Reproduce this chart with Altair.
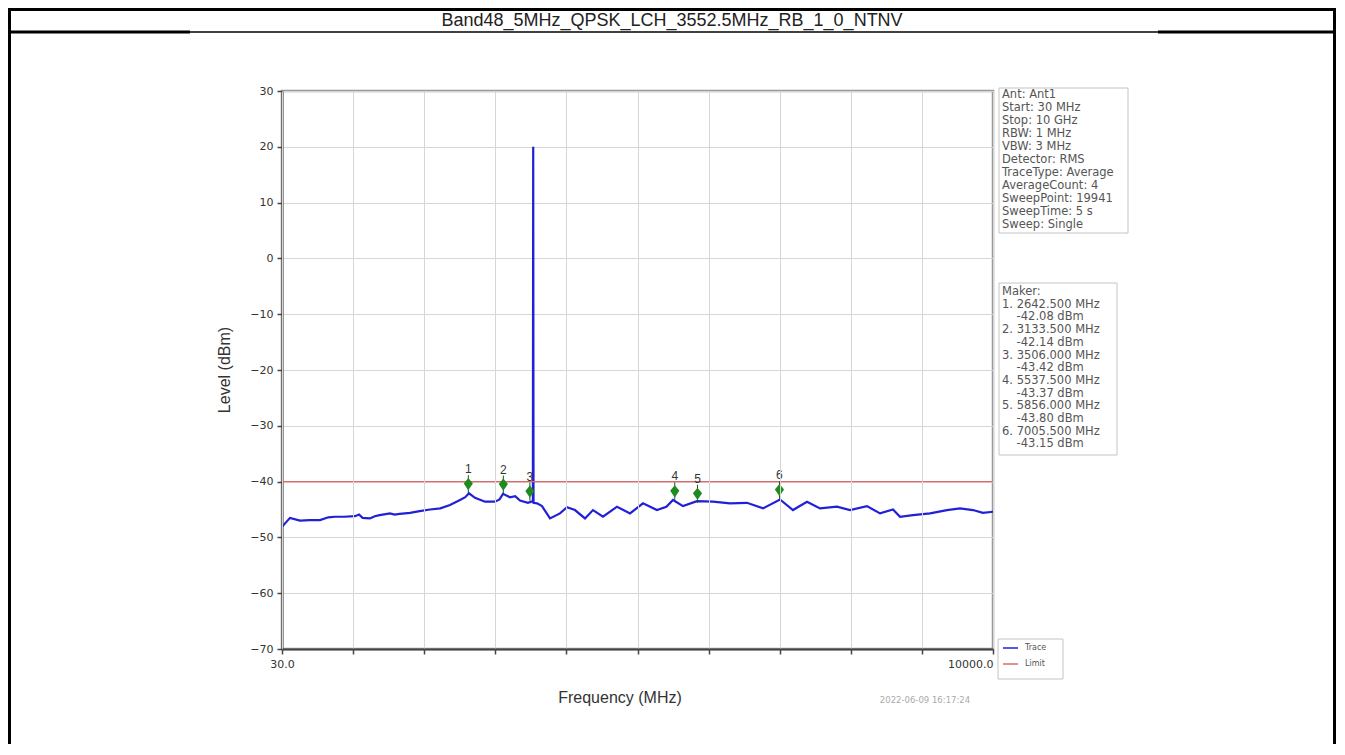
import altair as alt
import pandas as pd

# ---------------- data ----------------
trace_freq = [30, 142, 282, 420, 563, 680, 773, 900, 1054, 1110, 1160, 1264, 1330, 1400, 1544,
              1610, 1680, 1825, 1960, 2105, 2250, 2386, 2526, 2600, 2652, 2736, 2877, 3017,
              3080, 3129, 3227, 3300, 3367, 3479, 3548, 3552.5, 3557, 3606, 3676, 3788, 3928,
              4026, 4138, 4279, 4391, 4531, 4727, 4910, 5092, 5288, 5420, 5513, 5653, 5849,
              6073, 6312, 6550, 6775, 7013, 7195, 7392, 7574, 7812, 7995, 8233, 8416, 8598,
              8696, 8878, 9117, 9355, 9537, 9719, 9859, 10000]
trace_level = [-48.1, -46.5, -47.0, -46.9, -46.9, -46.4, -46.3, -46.3, -46.2, -45.9, -46.5,
               -46.6, -46.2, -46.0, -45.7, -45.9, -45.8, -45.6, -45.3, -45.0, -44.8, -44.2,
               -43.3, -42.8, -42.1, -42.9, -43.6, -43.6, -43.2, -42.2, -42.8, -42.6, -43.4,
               -43.8, -43.5, 20.0, -43.8, -43.9, -44.4, -46.6, -45.7, -44.6, -45.1, -46.6,
               -45.1, -46.3, -44.5, -45.7, -43.9, -45.1, -44.5, -43.3, -44.4, -43.5, -43.6,
               -43.9, -43.8, -44.8, -43.2, -45.1, -43.6, -44.8, -44.5, -45.1, -44.4, -45.7,
               -45.0, -46.3, -46.0, -45.7, -45.1, -44.8, -45.1, -45.6, -45.4]

marker_ids = ["1", "2", "3", "4", "5", "6"]
marker_freq = [2642.5, 3133.5, 3506.0, 5537.5, 5856.0, 7005.5]
marker_level = [-42.08, -42.14, -43.42, -43.37, -43.80, -43.15]

limit_level = [-40]

x_tick_values = [30, 1027, 2024, 3021, 4018, 5015, 6012, 7009, 8006, 9003, 10000]
y_tick_values = [-70, -60, -50, -40, -30, -20, -10, 0, 10, 20, 30]

title_text = "Band48_5MHz_QPSK_LCH_3552.5MHz_RB_1_0_NTNV"
x_title = "Frequency (MHz)"
y_title = "Level (dBm)"
timestamp = "2022-06-09 16:17:24"

info_lines = ["Ant: Ant1", "Start: 30 MHz", "Stop: 10 GHz", "RBW: 1 MHz", "VBW: 3 MHz",
              "Detector: RMS", "TraceType: Average", "AverageCount: 4", "SweepPoint: 19941",
              "SweepTime: 5 s", "Sweep: Single"]
IND = "\u200b" + "\u00a0" * 4
marker_lines = ["Maker:",
                "1. 2642.500 MHz", IND + "-42.08 dBm",
                "2. 3133.500 MHz", IND + "-42.14 dBm",
                "3. 3506.000 MHz", IND + "-43.42 dBm",
                "4. 5537.500 MHz", IND + "-43.37 dBm",
                "5. 5856.000 MHz", IND + "-43.80 dBm",
                "6. 7005.500 MHz", IND + "-43.15 dBm"]
legend_names = ["Trace", "Limit"]

# ---------------- layout ----------------
PX0, PY0 = 282, 91          # page position of plot origin
W, H = 711, 558
PAD = {"left": 274, "top": 83, "right": 344, "bottom": 95}

trace_df = pd.DataFrame({"freq": trace_freq, "level": trace_level})
marker_df = pd.DataFrame({"id": marker_ids, "freq": marker_freq, "level": marker_level})
limit_df = pd.DataFrame({"level": limit_level})
one = pd.DataFrame({"a": [0]})

xscale = alt.Scale(domain=[30, 10000], nice=False, zero=False)
yscale = alt.Scale(domain=[-70, 30], nice=False, zero=False)

xaxis = alt.Axis(values=x_tick_values, title=None, grid=True, gridColor="#d6d6d6",
                 gridWidth=1, tickSize=5, tickColor="#444", tickWidth=1.5,
                 domainColor="#444", domainWidth=2, zindex=1,
                 labelExpr="datum.value == 30 || datum.value == 10000 ? format(datum.value, '.1f') : ''",
                 labelAlign={"condition": {"test": "datum.value == 10000", "value": "right"},
                             "value": "center"},
                 labelFont="DejaVu Sans", labelFontSize=11, labelColor="#333",
                 labelPadding=4, labelFlush=False, labelOverlap=False)
yaxis = alt.Axis(values=y_tick_values, title=None, grid=True, gridColor="#d6d6d6",
                 gridWidth=1, tickSize=5, tickColor="#444", tickWidth=1.5,
                 domainColor="#444", domainWidth=2,
                 labelFont="DejaVu Sans", labelFontSize=11, labelColor="#333",
                 labelPadding=4)

base_x = alt.X("freq:Q", scale=xscale, axis=xaxis)
base_y = alt.Y("level:Q", scale=yscale, axis=yaxis)

trace = alt.Chart(trace_df).mark_line(color="#2020d8", strokeWidth=2.2, clip=True).encode(
    x=base_x, y=base_y, order="freq:Q")

limit = alt.Chart(limit_df).mark_rule(color="#e06a6a", strokeWidth=1.2).encode(
    y=alt.Y("level:Q", scale=yscale))

stems = alt.Chart(marker_df).mark_rule(color="#1f4f1f", strokeWidth=1, yOffset=-18, y2Offset=0).encode(
    x=alt.X("freq:Q", scale=xscale), y=alt.Y("level:Q", scale=yscale), y2="level:Q")

marks = alt.Chart(marker_df).mark_point(
    shape="M0,-1L0.75,-0.1L0,1L-0.75,-0.1Z", filled=True, color="#1f8a1f", opacity=1,
    size=150, yOffset=-9).encode(
    x=alt.X("freq:Q", scale=xscale), y=alt.Y("level:Q", scale=yscale))

labels = alt.Chart(marker_df).mark_text(
    font="Liberation Sans", fontSize=12, color="#333", yOffset=-24, baseline="middle").encode(
    x=alt.X("freq:Q", scale=xscale), y=alt.Y("level:Q", scale=yscale), text="id:N")


def px(x):
    return x - PX0


def py(y):
    return y - PY0


def hrule(x1, x2, y, color, width):
    return alt.Chart(one).mark_rule(color=color, strokeWidth=width).encode(
        x=alt.value(px(x1)), x2=alt.value(px(x2)), y=alt.value(py(y)))


def vrule(x, y1, y2, color, width):
    return alt.Chart(one).mark_rule(color=color, strokeWidth=width).encode(
        x=alt.value(px(x)), y=alt.value(py(y1)), y2=alt.value(py(y2)))


def text(x, y, s, size, font="Liberation Sans", color="#222", align="center",
         baseline="middle", angle=0, line_height=None):
    kw = dict(font=font, fontSize=size, color=color, align=align, baseline=baseline)
    if angle:
        kw["angle"] = angle
    if line_height:
        kw["lineBreak"] = "\n"
        kw["lineHeight"] = line_height
    return alt.Chart(one).mark_text(**kw).encode(
        x=alt.value(px(x)), y=alt.value(py(y)), text=alt.value(s))


def box(x1, y1, x2, y2):
    return alt.Chart(one).mark_rect(fill="white", stroke="#c4c4c4", strokeWidth=1).encode(
        x=alt.value(px(x1)), x2=alt.value(px(x2)), y=alt.value(py(y1)), y2=alt.value(py(y2)))


deco = [
    hrule(8, 1336, 9.5, "black", 3),
    vrule(9.5, 8, 752, "black", 3),
    vrule(1334.5, 8, 752, "black", 3),
    hrule(8, 190, 32, "black", 3),
    hrule(190, 1158, 32, "black", 1.3),
    hrule(1158, 1336, 32, "black", 3),
    text(672, 21, title_text, 18),
    text(620, 698, x_title, 16, color="#333"),
    text(225, 370, y_title, 16, color="#333", angle=270),
    text(925, 700, timestamp, 8.5, font="DejaVu Sans", color="#aaa"),
    box(999, 88, 1128, 233),
    text(1002, 89, "\n".join(info_lines), 11.5, font="DejaVu Sans", color="#555",
         align="left", baseline="top", line_height=13),
    box(999, 283, 1117, 455),
    text(1002, 286, "\n".join(marker_lines), 11.5, font="DejaVu Sans", color="#555",
         align="left", baseline="top", line_height=12.7),
    box(998, 639, 1063, 679),
    hrule(1003, 1018, 648, "#2020d8", 1.5),
    hrule(1003, 1018, 664, "#e06a6a", 1.5),
    text(1025, 648, legend_names[0], 8, font="DejaVu Sans", color="#555", align="left"),
    text(1025, 664, legend_names[1], 8, font="DejaVu Sans", color="#555", align="left"),
]

chart = alt.layer(trace, limit, stems, marks, labels, *deco).properties(
    width=W, height=H,
    autosize=alt.AutoSizeParams(type="none"),
    padding=PAD,
).configure_view(stroke="#999", strokeWidth=2.5)

chart.save("out.html", embed_options={"renderer": "svg", "actions": False})
